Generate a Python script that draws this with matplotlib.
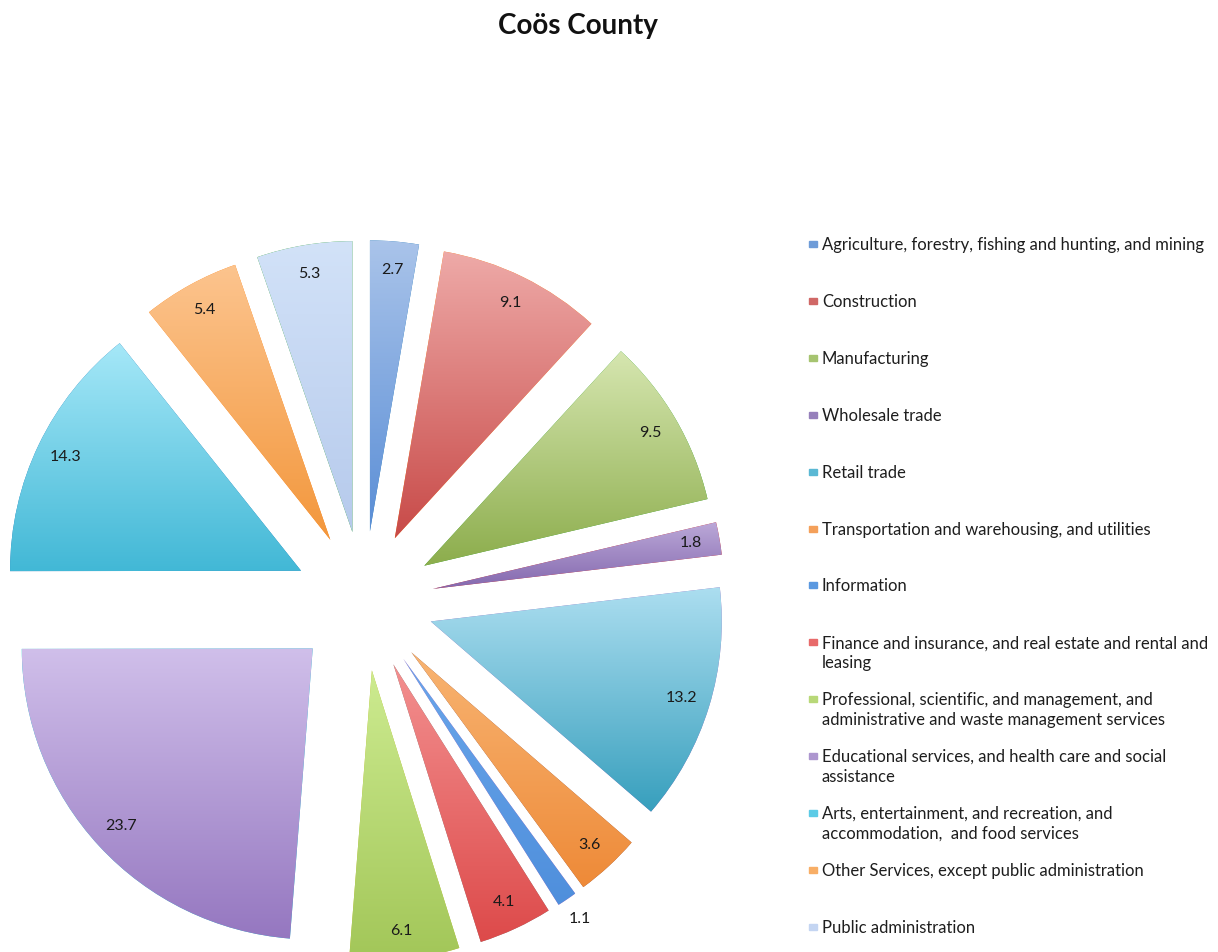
import numpy as np
import matplotlib
matplotlib.use("Agg")
import matplotlib.pyplot as plt
from matplotlib.colors import LinearSegmentedColormap

plt.rcParams['font.family'] = ['Lato', 'DejaVu Sans']

sectors = [
    "Agriculture, forestry, fishing and hunting, and mining",
    "Construction",
    "Manufacturing",
    "Wholesale trade",
    "Retail trade",
    "Transportation and warehousing, and utilities",
    "Information",
    "Finance and insurance, and real estate and rental and\nleasing",
    "Professional, scientific, and management, and\nadministrative and waste management services",
    "Educational services, and health care and social\nassistance",
    "Arts, entertainment, and recreation, and\naccommodation,  and food services",
    "Other Services, except public administration",
    "Public administration",
]
shares = [2.7, 9.1, 9.5, 1.8, 13.2, 3.6, 1.1, 4.1, 6.1, 23.7, 14.3, 5.4, 5.3]

# light (top) and dark (bottom) end of each slice's fill
top_colors = ["#aac4ea", "#eeaaa8", "#d6e6b0", "#bba8d8", "#acdef0", "#f8b472",
              "#6aa6ea", "#f39090", "#cdeb90", "#d0bfea", "#a6e8f8", "#fcc48e", "#d2e2f8"]
bottom_colors = ["#5a8ed6", "#c84a48", "#8cad4c", "#8468ae", "#379fbd", "#ee8a38",
                 "#4f8fdc", "#dd4a4a", "#a2c658", "#9577c0", "#42b8d6", "#f3973c", "#b6caec"]
legend_colors = ["#6e9cd8", "#d06866", "#a6c470", "#9680bb", "#5ab8d4", "#f4a05a",
                 "#5a98e0", "#e86a6a", "#b8d878", "#ad96cf", "#5ccbe6", "#f8ae66", "#c4d5f2"]

W, H = 1218, 952
fig = plt.figure(figsize=(W / 100, H / 100), dpi=100)

# pie centre and radius in pixels
cx, cy, rad = 364, 601, 291
half = 372
ax = fig.add_axes([(cx - half) / W, (H - cy - half) / H, 2 * half / W, 2 * half / H])
lim = half / rad

wedges, _ = ax.pie(shares, startangle=90, counterclock=False,
                   explode=[0.24] * len(shares),
                   wedgeprops=dict(linewidth=0))

for w, ct, cb, val in zip(wedges, top_colors, bottom_colors, shares):
    verts = w.get_path().vertices
    x0, x1 = verts[:, 0].min(), verts[:, 0].max()
    y0, y1 = verts[:, 1].min(), verts[:, 1].max()
    cmap = LinearSegmentedColormap.from_list("g", [cb, ct])
    grad = np.linspace(0, 1, 256).reshape(-1, 1)
    im = ax.imshow(grad, extent=[x0, x1, y0, y1], origin="lower", cmap=cmap,
                   aspect="auto", interpolation="bilinear", zorder=2)
    im.set_clip_path(w)

    # value label near the outer rim of each slice
    mid = np.deg2rad((w.theta1 + w.theta2) / 2)
    dist = 1.08 if val < 1.5 else 0.9
    lx = w.center[0] + dist * w.r * np.cos(mid)
    ly = w.center[1] + dist * w.r * np.sin(mid)
    ax.text(lx, ly, f"{val:.1f}", ha="center", va="center", fontsize=11.5,
            color="#1a1a1a", zorder=3)

ax.set_xlim(-lim, lim)
ax.set_ylim(-lim, lim)
ax.axis("off")

fig.text(578 / W, 1 - 26 / H, "Coös County", ha="center", va="center",
         fontsize=20, fontweight="bold", color="#111111")

# legend: one entry per 57 px, long names wrap under their first line
for i, (name, col) in enumerate(zip(sectors, legend_colors)):
    yp = 244 + i * 56.9
    fig.patches.append(plt.Rectangle((809 / W, 1 - (yp + 3) / H), 8 / W, 6 / H,
                                     transform=fig.transFigure, color=col))
    fig.text(822 / W, 1 - (yp - 7) / H, name, ha="left", va="top",
             fontsize=12, color="#1e1e1e", linespacing=1.3)

fig.savefig("out.png", dpi=100)
